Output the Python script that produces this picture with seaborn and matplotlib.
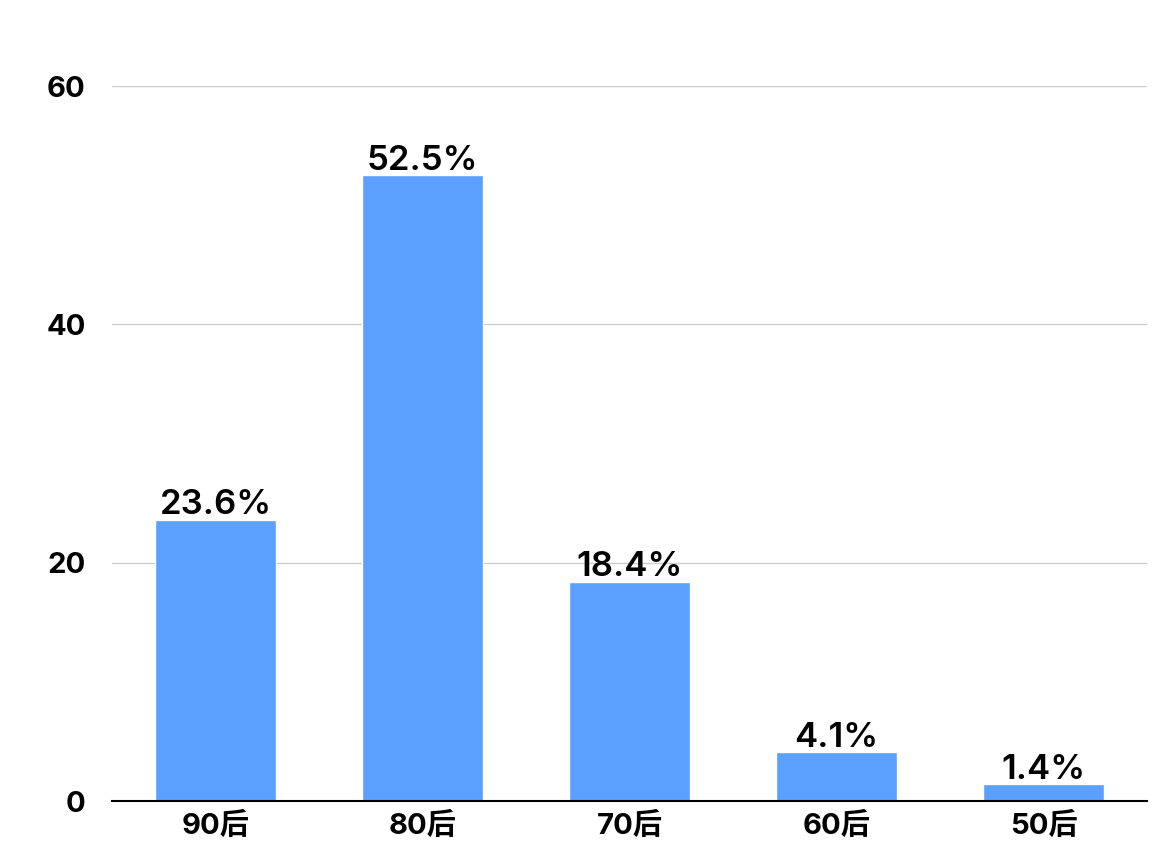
import matplotlib
matplotlib.use('Agg')
import matplotlib.pyplot as plt
import seaborn as sns
import pandas as pd

# data
categories = ['90后', '80后', '70后', '60后', '50后']
shares = [23.6, 52.5, 18.4, 4.1, 1.4]
bar_labels = ['23.6%', '52.5%', '18.4%', '4.1%', '1.4%']

sns.set_style('white')
plt.rcParams['font.family'] = ['Inter', 'Noto Sans CJK SC']
plt.rcParams['text.color'] = 'black'
plt.rcParams['xtick.color'] = 'black'
plt.rcParams['ytick.color'] = 'black'

df = pd.DataFrame({'cat': categories, 'share': shares})

fig = plt.figure(figsize=(11.72, 8.67), dpi=100)
ax = fig.add_axes([0.0956, 0.0761, 0.8831, 0.8247])

sns.barplot(data=df, x='cat', y='share', color='#5B9FFF', saturation=1,
            width=0.587, ax=ax, zorder=3)

for p, lab in zip(ax.patches, bar_labels):
    ax.annotate(lab, (p.get_x() + p.get_width() / 2, p.get_height()),
                ha='center', va='baseline', fontsize=25, fontweight='semibold',
                xytext=(0, 4), textcoords='offset points', zorder=4)

ax.set_ylim(0, 60)
ax.set_xlim(-0.5, 4.5)
ax.set_yticks([0, 20, 40, 60])
ax.yaxis.grid(True, color='#cccccc', linewidth=1, zorder=0)
ax.set_xlabel('')
ax.set_ylabel('')
for s in ['top', 'right', 'left']:
    ax.spines[s].set_visible(False)
ax.spines['bottom'].set_color('black')
ax.spines['bottom'].set_linewidth(1.5)
ax.spines['bottom'].set_zorder(5)
ax.tick_params(axis='y', length=0, pad=19, labelsize=21)
ax.tick_params(axis='x', length=0, pad=8, labelsize=21)
for t in ax.get_xticklabels() + ax.get_yticklabels():
    t.set_fontweight('bold')

fig.savefig('out.png', dpi=100)
